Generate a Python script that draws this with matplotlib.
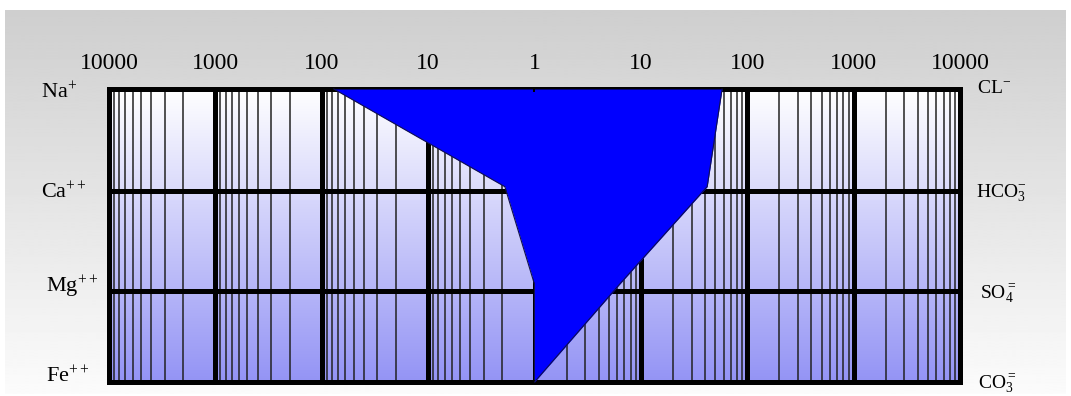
import numpy as np
import matplotlib
matplotlib.use("Agg")
import matplotlib.pyplot as plt

plt.rcParams['font.family'] = ['Liberation Serif', 'DejaVu Serif']
plt.rcParams['mathtext.fontset'] = 'custom'
plt.rcParams['mathtext.rm'] = 'Liberation Serif'
plt.rcParams['mathtext.it'] = 'Liberation Serif:italic'
plt.rcParams['mathtext.bf'] = 'Liberation Serif:bold'

# stiff diagram data (meq/l)
cation_labels = ['Na$^{+}$', 'Ca$^{++}$', 'Mg$^{++}$', 'Fe$^{++}$']
anion_labels = ['CL$^{-}$', 'HCO$_3^{-}$', 'SO$_4^{=}$', 'CO$_3^{=}$']
cations = [77, 1.9, 1.0, 1.0]
anions = [58, 42, 6.3, 1.0]
rows = [0, 1, 2, 3]

left_ticks = [10000, 1000, 100, 10, 1]
right_ticks = [10, 100, 1000, 10000]

W, H = 1071, 396
fig = plt.figure(figsize=(W / 100, H / 100), dpi=100)


def px(x0, y0, x1, y1):
    return [x0 / W, 1 - y1 / H, (x1 - x0) / W, (y1 - y0) / H]


# background gradients
bg = fig.add_axes([0, 0, 1, 1], zorder=-10)
bg.set_xlim(0, W)
bg.set_ylim(H, 0)
bg.axis('off')
gray = np.linspace(0.81, 0.985, 256)[:, None]
bg.imshow(gray, cmap='gray', vmin=0, vmax=1, extent=[5, 1066, 394, 10], aspect='auto')
t = np.linspace(0, 1, 256)[:, None]
blue = np.dstack([1 - 0.42 * t, 1 - 0.42 * t, 1 - 0.04 * t])
bg.imshow(blue, extent=[109, 960, 382, 89], aspect='auto')

minor = [k * 10 ** d for d in range(4) for k in range(2, 10)]
# the row lines sit a little lower than the even spacing
hlines = [0, 1.04, 2.07, 3]

axL = fig.add_axes(px(109, 89, 534.5, 382))
axR = fig.add_axes(px(534.5, 89, 960, 382))
for ax in (axL, axR):
    ax.set_facecolor('none')
    ax.set_xscale('log')
    ax.set_ylim(3, 0)
    ax.set_yticks(hlines)
    ax.set_xticks(minor, minor=True)
    ax.tick_params(which='both', length=0, labelleft=False, labelbottom=False,
                   labeltop=True, top=True, bottom=False)
    ax.tick_params(which='minor', labeltop=False)
    ax.tick_params(axis='x', pad=11, labelsize=17)
    ax.grid(True, which='major', axis='both', color='black', lw=3.6, zorder=1)
    ax.grid(True, which='minor', axis='x', color='#222222', lw=1.1, zorder=1)
    ax.set_axisbelow(True)
    for s in ax.spines.values():
        s.set_linewidth(3.6)
        s.set_zorder(1.5)

axL.set_xlim(10000, 1)
axL.set_xticks(left_ticks, labels=[str(v) for v in left_ticks])
axL.spines['right'].set_visible(False)
axR.set_xlim(1, 10000)
axR.set_xticks(right_ticks, labels=[str(v) for v in right_ticks])
axR.spines['left'].set_visible(False)
axR.tick_params(axis='y', left=False, labelleft=False)

# the stiff polygon, split over both halves
axL.fill_betweenx(rows, cations, 1, color='#0000ff', lw=0, zorder=3)
axR.fill_betweenx(rows, 1, anions, color='#0000ff', lw=0, zorder=3)
axL.plot(cations, rows, color='#101050', lw=0.8, zorder=4, clip_on=False)
axR.plot(anions, rows, color='#101050', lw=0.8, zorder=4, clip_on=False)

# row labels
left_pos = [(41, 98), (41, 198), (46, 292), (46, 382)]
right_pos = [(977, 93), (976, 197), (980, 299), (978, 389)]
for lab, (x, y) in zip(cation_labels, left_pos):
    bg.text(x, y, lab, fontsize=16, ha='left', va='baseline')
for lab, (x, y) in zip(anion_labels, right_pos):
    bg.text(x, y, lab, fontsize=14, ha='left', va='baseline')

fig.savefig('out.png', dpi=100)
